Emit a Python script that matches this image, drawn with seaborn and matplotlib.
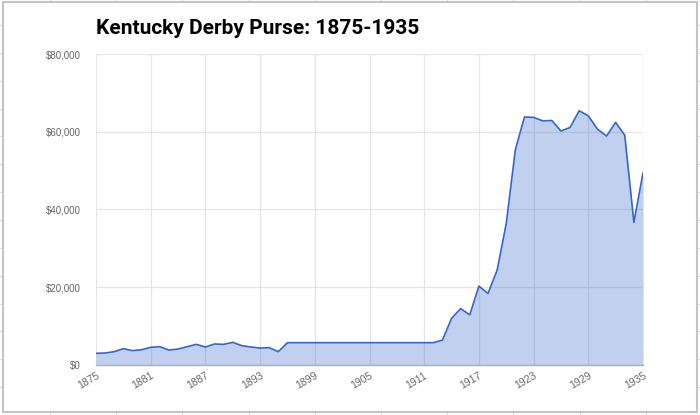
import matplotlib
matplotlib.use("Agg")
import matplotlib.pyplot as plt
from matplotlib.patches import Rectangle
from matplotlib.lines import Line2D
from matplotlib.ticker import FuncFormatter
from matplotlib import font_manager
import seaborn as sns
import pandas as pd

years = list(range(1875, 1936))
purse = [
    3000, 3090, 3430, 4200, 3690, 3940, 4540, 4710, 3860, 4110,   # 1875-1884
    4710, 5310, 4630, 5400, 5310, 5830, 4970, 4630, 4370, 4460,   # 1885-1894
    3430, 5740, 5740, 5740, 5740, 5740, 5740, 5740, 5740, 5740,   # 1895-1904
    5740, 5740, 5740, 5740, 5740, 5740, 5740, 5740, 6400, 12000,  # 1905-1914
    14500, 12900, 20300, 18400, 24400, 36400, 55400, 63800, 63700, 62800,  # 1915-1924
    62900, 60200, 61100, 65400, 64100, 60700, 58900, 62400, 59100, 36700,  # 1925-1934
    49400,                                                        # 1935
]
xticks = list(range(1875, 1936, 6))
yticks = [0, 20000, 40000, 60000, 80000]
title = "Kentucky Derby Purse: 1875-1935"

df = pd.DataFrame({"year": years, "purse": purse})

sns.set_theme(style="white")
names = {f.name for f in font_manager.fontManager.ttflist}
narrow = "Liberation Sans Narrow" if "Liberation Sans Narrow" in names else "Roboto"
plt.rcParams["font.family"] = ["Liberation Sans", "DejaVu Sans"]

W, H = 700, 415
fig = plt.figure(figsize=(W / 100, H / 100), dpi=100)

# spreadsheet background cells
for k in range(11):
    x = (50 + 66.2 * k) / W
    fig.add_artist(Line2D([x, x], [0, 1], transform=fig.transFigure,
                          color="#dadada", lw=0.8, zorder=-3))
for k in range(15):
    y = 1 - (25 + 27.85 * k) / H
    fig.add_artist(Line2D([0, 1], [y, y], transform=fig.transFigure,
                          color="#dadada", lw=0.8, zorder=-3))
fig.add_artist(Rectangle((3 / W, 1 - 411.5 / H), 694 / W, 409.5 / H,
                         transform=fig.transFigure, facecolor="white",
                         edgecolor="#c4c4c4", lw=1.5, zorder=-2))

ax = fig.add_axes([96 / W, (H - 365) / H, 547 / W, 311 / H])
ax.set_facecolor("none")
ax.fill_between(df["year"], df["purse"], 0, color="#3366cc", alpha=0.3,
                lw=0, zorder=2)
sns.lineplot(data=df, x="year", y="purse", ax=ax, color="#3366cc",
             lw=1.2, zorder=3)

ax.set_xlim(1875, 1935)
ax.set_ylim(0, 80000)
ax.set_xticks(xticks)
ax.set_yticks(yticks)
ax.yaxis.set_major_formatter(FuncFormatter(lambda v, p: f"${v:,.0f}"))
ax.grid(True, color="#e6e6e6", lw=1, zorder=0)
ax.set_axisbelow(True)
for s in ["top", "right", "left"]:
    ax.spines[s].set_visible(False)
ax.spines["bottom"].set_color("#b0b0b0")
ax.spines["bottom"].set_linewidth(1)
ax.set_xlabel("")
ax.set_ylabel("")
ax.tick_params(axis="y", length=0, pad=11, labelsize=7, labelcolor="#666666")
ax.tick_params(axis="x", length=0, pad=4, labelsize=7.5, labelcolor="#666666")
for lab in ax.get_xticklabels():
    lab.set_rotation(30)
    lab.set_ha("right")
    lab.set_va("top")
    lab.set_rotation_mode("anchor")

fig.text(96 / W, 1 - 28 / H, title, ha="left", va="center",
         fontsize=15, fontweight="bold", family=[narrow, "DejaVu Sans"],
         color="#000000")

fig.savefig("out.png", dpi=100)
